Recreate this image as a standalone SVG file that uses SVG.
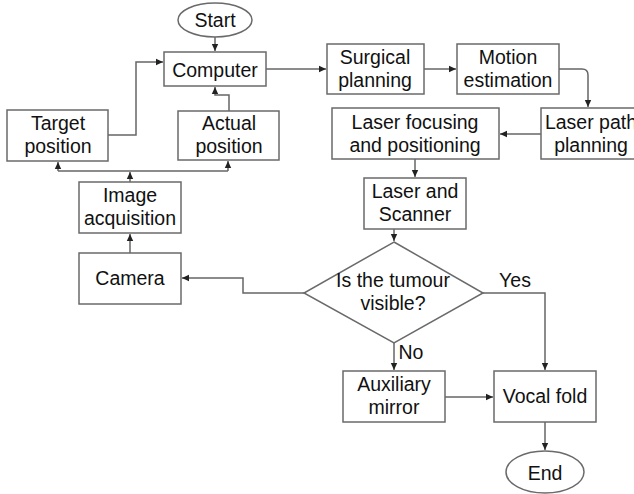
<svg xmlns="http://www.w3.org/2000/svg" width="634" height="494" viewBox="0 0 634 494">
<defs>
<marker id="ah" markerWidth="8" markerHeight="8" refX="7" refY="4" orient="auto" markerUnits="userSpaceOnUse">
<path d="M0,0.8 L7,4 L0,7.2 Z" fill="#222"/>
</marker>
<style>
.box{fill:#fff;stroke:#6a6a6a;stroke-width:1.5}
.ln{fill:none;stroke:#666;stroke-width:1.5}
.t{font-family:"Liberation Sans",Arial,sans-serif;font-size:19.5px;fill:#111;text-anchor:middle}
</style>
</defs>
<rect width="634" height="494" fill="#fff"/>
<g id="connectors">
<path class="ln" d="M215,37 V51" marker-end="url(#ah)"/>
<path class="ln" d="M108,135 H136 V62 H163" marker-end="url(#ah)"/>
<path class="ln" d="M229,111 V95 H215 V87" marker-end="url(#ah)"/>
<path class="ln" d="M266,69 H326" marker-end="url(#ah)"/>
<path class="ln" d="M424,69 H456" marker-end="url(#ah)"/>
<path class="ln" d="M559,69 H582 Q588,69 588,75 V107" marker-end="url(#ah)"/>
<path class="ln" d="M541,134 H500" marker-end="url(#ah)"/>
<path class="ln" d="M415,159 V177" marker-end="url(#ah)"/>
<path class="ln" d="M394,229 V241" marker-end="url(#ah)"/>
<path class="ln" d="M304,293 H243 V278 H182" marker-end="url(#ah)"/>
<path class="ln" d="M130,253 V234" marker-end="url(#ah)"/>
<path class="ln" d="M130,182 V172" marker-end="url(#ah)"/>
<path class="ln" d="M58,171 H228"/>
<path class="ln" d="M58,171 V162" marker-end="url(#ah)"/>
<path class="ln" d="M228,171 V161" marker-end="url(#ah)"/>
<path class="ln" d="M483,293 H545 V370" marker-end="url(#ah)"/>
<path class="ln" d="M394,343 V370" marker-end="url(#ah)"/>
<path class="ln" d="M445,397 H493" marker-end="url(#ah)"/>
<path class="ln" d="M545,422 V450" marker-end="url(#ah)"/>
<text class="t" x="515" y="287">Yes</text>
<text class="t" x="411" y="359">No</text>
</g>
<g id="start"><ellipse class="box" cx="215" cy="20" rx="37" ry="17"/><text class="t" x="215" y="27">Start</text></g>
<g id="computer"><rect class="box" x="164" y="52" width="102" height="34"/><text class="t" x="215" y="77">Computer</text></g>
<g id="target"><rect class="box" x="7" y="110" width="101" height="51"/><text class="t" x="58" y="130">Target</text><text class="t" x="58" y="153">position</text></g>
<g id="actual"><rect class="box" x="178" y="111" width="101" height="49"/><text class="t" x="229" y="130">Actual</text><text class="t" x="229" y="153">position</text></g>
<g id="surgical"><rect class="box" x="327" y="44" width="97" height="50"/><text class="t" x="375" y="64">Surgical</text><text class="t" x="375" y="87">planning</text></g>
<g id="motion"><rect class="box" x="457" y="44" width="102" height="50"/><text class="t" x="508" y="64">Motion</text><text class="t" x="508" y="87">estimation</text></g>
<g id="laserpath"><rect class="box" x="541" y="108" width="100" height="51"/><text class="t" x="591" y="129">Laser path</text><text class="t" x="591" y="152">planning</text></g>
<g id="focusing"><rect class="box" x="332" y="108" width="167" height="51"/><text class="t" x="415" y="129">Laser focusing</text><text class="t" x="415" y="152">and positioning</text></g>
<g id="scanner"><rect class="box" x="364" y="178" width="102" height="51"/><text class="t" x="415" y="198">Laser and</text><text class="t" x="415" y="221">Scanner</text></g>
<g id="decision"><polygon class="box" points="394,242 483,293 394,343 304,293"/><text class="t" x="393" y="287">Is the tumour</text><text class="t" x="393" y="310">visible?</text></g>
<g id="image"><rect class="box" x="79" y="182" width="102" height="51"/><text class="t" x="130" y="202">Image</text><text class="t" x="130" y="225">acquisition</text></g>
<g id="camera"><rect class="box" x="79" y="253" width="102" height="51"/><text class="t" x="130" y="285">Camera</text></g>
<g id="auxiliary"><rect class="box" x="343" y="371" width="102" height="51"/><text class="t" x="394" y="391">Auxiliary</text><text class="t" x="394" y="414">mirror</text></g>
<g id="vocal"><rect class="box" x="494" y="371" width="102" height="51"/><text class="t" x="545" y="403">Vocal fold</text></g>
<g id="end"><ellipse class="box" cx="545" cy="472" rx="39" ry="21"/><text class="t" x="545" y="480">End</text></g>
</svg>
